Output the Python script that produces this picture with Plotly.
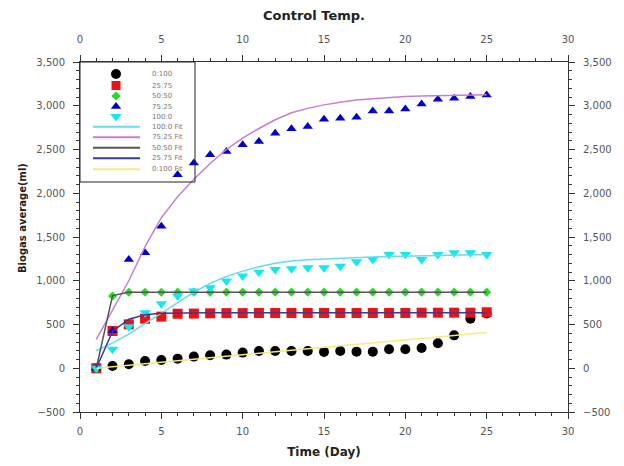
import plotly.graph_objects as go

days = list(range(1, 26))

# measured points
s_0_100 = [0, 26, 45, 83, 95, 110, 133, 148, 156, 179, 198, 198, 198, 198, 187, 198, 190, 190, 217, 217, 232, 285, 376, 566, 625]
s_25_75 = [0, 426, 502, 566, 590, 623, 625, 628, 630, 630, 632, 632, 632, 632, 632, 632, 632, 632, 632, 632, 635, 635, 635, 635, 640]
s_50_50 = [0, 825, 868, 868, 868, 870, 870, 870, 870, 870, 870, 870, 870, 870, 870, 870, 870, 870, 870, 870, 870, 870, 870, 870, 870]
s_75_25 = [0, 430, 1243, 1319, 1623, 2212, 2345, 2440, 2478, 2554, 2592, 2687, 2736, 2763, 2846, 2858, 2869, 2941, 2941, 2964, 3021, 3075, 3086, 3105, 3124]
s_100_0 = [0, 217, 475, 635, 738, 825, 882, 920, 996, 1053, 1098, 1129, 1137, 1148, 1148, 1167, 1217, 1243, 1300, 1300, 1243, 1300, 1319, 1319, 1300]

# fitted curves (read at each day)
f_100_0 = [200, 290, 390, 510, 640, 760, 870, 970, 1050, 1110, 1160, 1200, 1225, 1240, 1250, 1258, 1265, 1272, 1278, 1283, 1287, 1290, 1293, 1296, 1300]
f_75_25 = [330, 660, 1000, 1390, 1720, 1960, 2160, 2340, 2500, 2630, 2740, 2840, 2920, 2970, 3010, 3040, 3065, 3080, 3095, 3105, 3112, 3117, 3120, 3123, 3125]
f_50_50 = [0, 830, 868, 870, 870, 870, 870, 870, 870, 870, 870, 870, 870, 870, 870, 870, 870, 870, 870, 870, 870, 870, 870, 870, 870]
f_25_75 = [0, 420, 560, 612, 628, 632, 634, 635, 635, 635, 635, 635, 635, 635, 635, 635, 635, 635, 635, 635, 635, 635, 635, 635, 635]
f_0_100 = [0, 18, 36, 53, 70, 87, 104, 121, 138, 155, 172, 189, 206, 222, 238, 255, 272, 289, 306, 323, 340, 357, 374, 391, 408]

x_ticks = [0, 5, 10, 15, 20, 25, 30]
y_ticks = [-500, 0, 500, 1000, 1500, 2000, 2500, 3000, 3500]
y_labels = ["\u2212500", "0", "500", "1,000", "1,500", "2,000", "2,500", "3,000", "3,500"]

FONT = "DejaVu Sans"
fig = go.Figure()

markers = [
    ("0:100", s_0_100, "circle", "black", 10, 10),
    ("25:75", s_25_75, "square", "#ee1111", 10, 9),
    ("50:50", s_50_50, "diamond", "#22dd22", 7, 7),
    ("75:25", s_75_25, "triangle-up", "#0000cc", 9, 9),
    ("100:0", s_100_0, "triangle-down", "#11e8f0", 10, 10),
]
fits = [
    ("100:0 Fit", f_100_0, "#66dde6"),
    ("75:25 Fit", f_75_25, "#c57fd0"),
    ("50:50 Fit", f_50_50, "#555555"),
    ("25:75 Fit", f_25_75, "#3a3a99"),
    ("0:100 Fit", f_0_100, "#f2ec7a"),
]

# markers first, fit lines drawn on top of them (as in the reference)
for name, vals, sym, col, sz, lsz in markers:
    fig.add_trace(go.Scatter(x=days, y=vals, mode="markers", name=name,
                             marker=dict(symbol=sym, color=col, size=sz, line=dict(width=0)),
                             showlegend=False))
for name, vals, col in fits:
    fig.add_trace(go.Scatter(x=days, y=vals, mode="lines", name=name,
                             line=dict(color=col, width=1.5), showlegend=False))

# invisible trace for secondary axes
fig.add_trace(go.Scatter(x=[0], y=[0], xaxis="x2", yaxis="y2", mode="markers",
                         marker=dict(opacity=0), showlegend=False, hoverinfo="skip"))

# ---- hand-built compact legend, laid out in page pixels ----
OFF = 8                       # page body margin in the browser
PL, PR, PT, PB = 80, 568, 62, 412   # plot area in page pixels
W, H = 624 - OFF, 466 - OFF

legend_rows = [74, 85.5, 96, 106.5, 116.5, 126.7, 137.3, 147.7, 158.3, 169.3]
LEG_SYM_X, LEG_LINE_X0, LEG_LINE_X1, LEG_TEXT_X = 116, 93, 140, 150

# legend symbols drawn on a hidden overlay axis whose units are page pixels
for i, (name, vals, sym, col, sz, lsz) in enumerate(markers):
    fig.add_trace(go.Scatter(x=[LEG_SYM_X], y=[legend_rows[i]], xaxis="x3", yaxis="y3", mode="markers",
                             marker=dict(symbol=sym, color=col, size=lsz, line=dict(width=0)),
                             showlegend=False, hoverinfo="skip"))

shapes = [dict(type="rect", xref="x3", yref="y3", x0=80, x1=195, y0=182, y1=62,
               line=dict(color="#222", width=1), fillcolor="rgba(0,0,0,0)", layer="above")]
annotations = []
for i, (name, *_rest) in enumerate(markers):
    annotations.append(dict(xref="x3", yref="y3", x=LEG_TEXT_X, y=legend_rows[i], text=name, showarrow=False,
                            xanchor="left", yanchor="middle", font=dict(family=FONT, size=7, color="#777")))
for j, (name, vals, col) in enumerate(fits):
    yy = legend_rows[5 + j]
    shapes.append(dict(type="line", xref="x3", yref="y3", x0=LEG_LINE_X0, x1=LEG_LINE_X1, y0=yy, y1=yy,
                       line=dict(color=col, width=2), layer="above"))
    annotations.append(dict(xref="x3", yref="y3", x=LEG_TEXT_X, y=yy, text=name, showarrow=False,
                            xanchor="left", yanchor="middle", font=dict(family=FONT, size=7, color="#777")))

# y-axis title (placed as in the reference, slightly above the axis centre)
annotations.append(dict(xref="paper", yref="paper", x=(22 - PL) / (PR - PL), y=(PB - 218) / (PB - PT),
                        text="<b>Biogas average(ml)</b>", textangle=-90, showarrow=False,
                        xanchor="center", yanchor="middle", font=dict(family=FONT, size=10, color="#222")))

axis_common = dict(showline=True, linecolor="#333", linewidth=1, ticks="outside",
                   ticklen=6, tickcolor="#333", showgrid=False, zeroline=False, automargin=False,
                   tickfont=dict(family=FONT, size=10, color="#555"))
minor_x = dict(dtick=1, tick0=0, ticks="outside", ticklen=3, tickcolor="#333")
minor_y = dict(dtick=100, tick0=0, ticks="outside", ticklen=3, tickcolor="#333")

fig.update_layout(
    width=W, height=H,
    margin=dict(l=PL - OFF, r=W - (PR - OFF), t=PT - OFF, b=H - (PB - OFF)),
    paper_bgcolor="white", plot_bgcolor="white",
    title=dict(text="<b>Control Temp.</b>", x=(314 - OFF) / W, xanchor="center", y=1 - (15 - OFF) / H,
               yanchor="middle", font=dict(family=FONT, size=13, color="#222"), automargin=False),
    xaxis=dict(range=[0, 30], tickvals=x_ticks, **axis_common, minor=minor_x, ticklabelstandoff=4,
               title=dict(text="<b>Time (Day)</b>", font=dict(family=FONT, size=12, color="#222"), standoff=11)),
    yaxis=dict(range=[-500, 3500], tickvals=y_ticks, ticktext=y_labels, **axis_common, minor=minor_y,
               ticklabelstandoff=6),
    xaxis2=dict(range=[0, 30], tickvals=x_ticks, overlaying="x", side="top", **axis_common, minor=minor_x,
                ticklabelstandoff=8),
    yaxis2=dict(range=[-500, 3500], tickvals=y_ticks, ticktext=y_labels, overlaying="y", side="right",
                **axis_common, minor=minor_y, ticklabelstandoff=6),
    xaxis3=dict(range=[PL, PR], overlaying="x", visible=False, fixedrange=True),
    yaxis3=dict(range=[PB, PT], overlaying="y", visible=False, fixedrange=True),
    shapes=shapes,
    annotations=annotations,
    showlegend=False,
)

fig.write_html("out.html")
